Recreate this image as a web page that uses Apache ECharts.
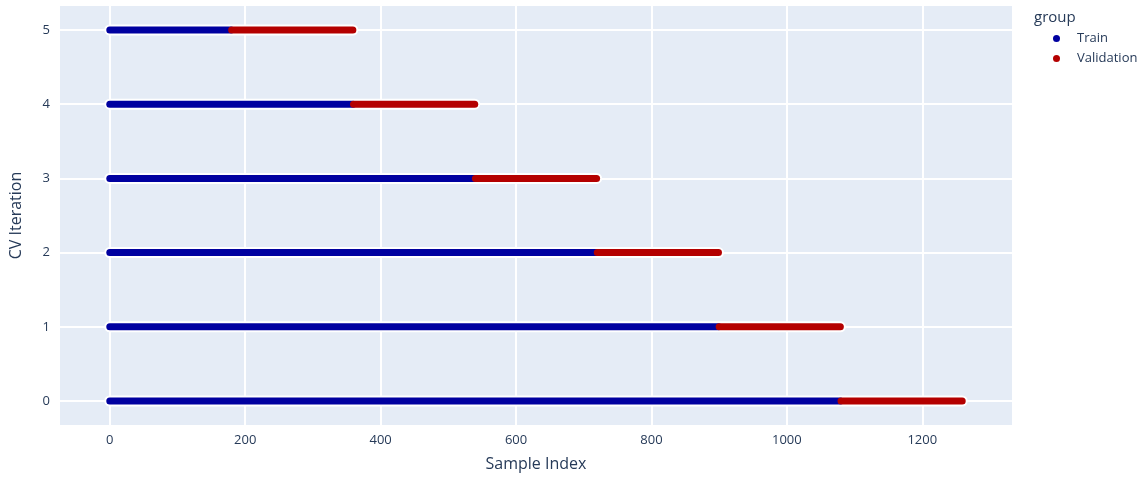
<!DOCTYPE html>
<html>
<head>
<meta charset="utf-8">
<script src="https://cdn.jsdelivr.net/npm/echarts@6/dist/echarts.min.js"></script>
<style>html,body{margin:0;padding:0;background:#fff;}#c{width:1143px;height:477px;}</style>
</head>
<body>
<div id="c"></div>
<script>
// CV iterations (y) and index ranges (x) for each fold
const iterations = [0, 1, 2, 3, 4, 5];
const trainStart = [0, 0, 0, 0, 0, 0];
const trainEnd   = [1079, 899, 719, 539, 359, 179];
const valStart   = [1080, 900, 720, 540, 360, 180];
const valEnd     = [1259, 1079, 899, 719, 539, 359];
const groups = ['Train', 'Validation'];
const groupColors = ['#0000A0', '#B40000'];
const legendTitle = 'group';

const font = '"Open Sans", "Noto Sans", sans-serif';
const txt = '#263a58';

const series = [];
iterations.forEach((it, i) => {
  series.push({
    type: 'line', name: '_outline', silent: true, symbol: 'none', z: 1,
    data: [[trainStart[i], it], [valEnd[i], it]],
    lineStyle: { color: '#ffffff', width: 11, cap: 'round' }
  });
});
iterations.forEach((it, i) => {
  series.push({
    type: 'line', name: groups[0], symbol: 'none', z: 2,
    data: [[trainStart[i], it], [trainEnd[i], it]],
    itemStyle: { color: groupColors[0] },
    lineStyle: { color: groupColors[0], width: 7, cap: 'round' }
  });
  series.push({
    type: 'line', name: groups[1], symbol: 'none', z: 3,
    data: [[valStart[i], it], [valEnd[i], it]],
    itemStyle: { color: groupColors[1] },
    lineStyle: { color: groupColors[1], width: 7, cap: 'round' }
  });
});

const chart = echarts.init(document.getElementById('c'));
chart.setOption({
  animation: false,
  backgroundColor: '#ffffff',
  title: {
    text: legendTitle, left: 1029, top: 5,
    textStyle: { fontFamily: font, fontSize: 15, fontWeight: 'normal', color: txt }
  },
  legend: {
    data: groups, orient: 'vertical', left: 1048, top: 27,
    icon: 'circle', itemWidth: 7, itemHeight: 7, itemGap: 7,
    textStyle: { fontFamily: font, fontSize: 13, color: txt, padding: [0, 0, 0, 12] }
  },
  grid: { left: 59, right: 130, top: 5, bottom: 51, backgroundColor: '#E5ECF6', show: true, borderWidth: 0 },
  xAxis: {
    type: 'value', min: -75, max: 1334, splitNumber: 7,
    name: 'Sample Index', nameLocation: 'middle', nameGap: 30,
    nameTextStyle: { fontFamily: font, fontSize: 16, color: txt },
    axisLine: { show: false }, axisTick: { show: false },
    axisLabel: { fontFamily: font, fontSize: 13, color: txt, margin: 8,
      formatter: v => (v % 200 === 0 && v >= 0 && v <= 1200) ? String(v) : '' },
    splitLine: { show: true, lineStyle: { color: '#ffffff', width: 2 } }
  },
  yAxis: {
    type: 'value', min: -0.337, max: 5.337, splitNumber: 6,
    name: 'CV Iteration', nameLocation: 'middle', nameGap: 35, nameRotate: 90,
    nameTextStyle: { fontFamily: font, fontSize: 16, color: txt },
    axisLine: { show: false }, axisTick: { show: false },
    axisLabel: { fontFamily: font, fontSize: 13, color: txt, margin: 9,
      formatter: v => Number.isInteger(v) ? String(v) : '' },
    splitLine: { show: true, lineStyle: { color: '#ffffff', width: 2 } }
  },
  series: series
});
</script>
</body>
</html>
